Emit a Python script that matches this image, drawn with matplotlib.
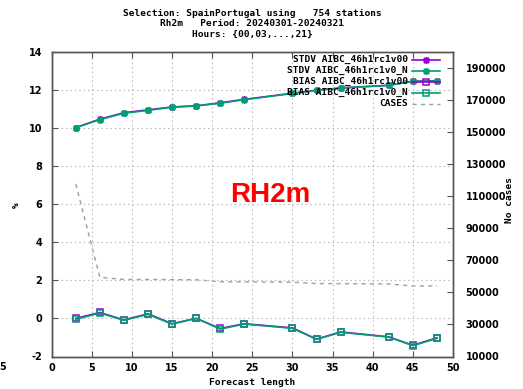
import matplotlib
matplotlib.use("Agg")
import matplotlib.pyplot as plt
from matplotlib.lines import Line2D

# ---------------- data ----------------
fc_hours = [3, 6, 9, 12, 15, 18, 21, 24, 30, 33, 36, 42, 45, 48]
stdv_v00 = [10.01, 10.45, 10.79, 10.94, 11.09, 11.15, 11.31, 11.49, 11.81, 11.97, 12.09, 12.23, 12.44, 12.46]
stdv_N   = [10.00, 10.43, 10.76, 10.91, 11.08, 11.14, 11.29, 11.47, 11.80, 11.96, 12.08, 12.22, 12.43, 12.45]
bias_v00 = [0.00, 0.31, -0.08, 0.24, -0.28, 0.00, -0.53, -0.28, -0.50, -1.09, -0.71, -0.97, -1.41, -1.02]
bias_N   = [-0.05, 0.28, -0.10, 0.21, -0.30, 0.00, -0.56, -0.30, -0.52, -1.10, -0.73, -0.98, -1.43, -1.05]
case_hours = [3, 6, 9, 12, 15, 18, 21, 24, 27, 30, 33, 36, 39, 42, 45, 48]
cases = [117500, 59300, 58000, 58000, 57900, 57800, 56600, 56500, 56400, 56300,
         55400, 55400, 55300, 55200, 53900, 54000]

title_lines = ["Selection: SpainPortugal using   754 stations",
               "Rh2m   Period: 20240301-20240321",
               "Hours: {00,03,...,21}"]
labels = ["STDV AIBC_46h1rc1v00", "STDV AIBC_46h1rc1v0_N",
          "BIAS AIBC_46h1rc1v00", "BIAS AIBC_46h1rc1v0_N", "CASES"]
x_ticks = list(range(0, 51, 5))
y_ticks = list(range(-2, 15, 2))
y2_ticks = list(range(10000, 190001, 20000))

# ---------------- style ----------------
W, H = 523, 389
PURPLE = "#9400D3"
GREEN = "#009E73"
GRAY = "#a0a0a0"
MONO = "DejaVu Sans Mono"
FS = 6.8

fig = plt.figure(figsize=(W / 100, H / 100), dpi=100)
L, R, T, B = 51.7, 453.0, 51.5, 356.5
ax = fig.add_axes([L / W, 1 - B / H, (R - L) / W, (B - T) / H])
ax2 = ax.twinx()
ax.set_zorder(ax2.get_zorder() + 1)
ax.patch.set_visible(False)

star = (8, 2, 0)
ax.plot(fc_hours, stdv_v00, color=PURPLE, lw=1.2, marker=star, ms=5, mew=1.1)
ax.plot(fc_hours, stdv_N, color=GREEN, lw=1.2, marker=star, ms=5, mew=1.1)
ax.plot(fc_hours, bias_v00, color=PURPLE, lw=1.2, marker="s", ms=4.3, mfc="none", mew=1.1)
ax.plot(fc_hours, bias_N, color=GREEN, lw=1.2, marker="s", ms=4.3, mfc="none", mew=1.1)
ax2.plot(case_hours, cases, color=GRAY, lw=1.0, ls=(0, (3, 3)))

ax.set_xlim(0, 50)
ax.set_ylim(-2, 14)
ax2.set_ylim(10000, 200000)
ax.set_xticks(x_ticks)
ax.set_yticks(y_ticks)
ax2.set_yticks(y2_ticks)

tick_font = dict(family="DejaVu Sans", weight="bold", size=7)
ax.set_xticklabels([str(v) for v in x_ticks], **tick_font)
ax.set_yticklabels([str(v) for v in y_ticks], **tick_font)
ax2.set_yticklabels([str(v) for v in y2_ticks], **tick_font)

ax.tick_params(axis="both", direction="in", length=4, width=0.8, color="#555555", pad=7)
ax.tick_params(axis="x", top=True, pad=5)
ax2.tick_params(axis="y", direction="in", length=4, width=0.8, color="#555555", pad=9)
for a in (ax, ax2):
    for s in a.spines.values():
        s.set_color("#555555")
        s.set_linewidth(1.0)

ax.grid(True, color="#c0c0c0", ls=(0, (1.5, 2.5)), lw=0.8)

# labels
ax.set_xlabel("Forecast length", family=MONO, weight="bold", size=FS, labelpad=3)
fig.text(16 / W, 1 - 205 / H, "%", family=MONO, weight="bold", size=FS,
         ha="center", va="center", rotation=90)
fig.text(510 / W, 1 - 200 / H, "No cases", family=MONO, weight="bold", size=FS,
         ha="center", va="center", rotation=90)
for i, line in enumerate(title_lines):
    fig.text(252 / W, 1 - (14 + i * 10) / H, line, family=MONO, weight="bold",
             size=FS, ha="center", va="center")
fig.text(270 / W, 1 - 195 / H, "RH2m", family="Liberation Sans", weight="bold",
         size=20, color="#ff0000", ha="center", va="center")
fig.text(3 / W, 1 - 367 / H, "5", family="DejaVu Sans", weight="bold", size=7,
         ha="center", va="center")

# manual key (gnuplot style: text right, sample line on the right)
styles = [dict(color=PURPLE, lw=1.2, marker=star, ms=5, mew=1.1),
          dict(color=GREEN, lw=1.2, marker=star, ms=5, mew=1.1),
          dict(color=PURPLE, lw=1.2, marker="s", ms=4.3, mfc="none", mew=1.1),
          dict(color=GREEN, lw=1.2, marker="s", ms=4.3, mfc="none", mew=1.1),
          dict(color=GRAY, lw=1.0, ls=(0, (3, 3)))]
for i, (lab, st) in enumerate(zip(labels, styles)):
    yy = 1 - (59.5 + i * 11) / H
    fig.text(408 / W, yy, lab, family=MONO, weight="bold", size=FS,
             ha="right", va="center", zorder=10)
    fig.add_artist(Line2D([412 / W, 440 / W], [yy, yy], transform=fig.transFigure,
                          markevery=[], **st))
    if "marker" in st:
        m = dict(st)
        m.pop("lw")
        fig.add_artist(Line2D([426 / W], [yy], transform=fig.transFigure, ls="none", **m))

fig.savefig("out.png", dpi=100)
